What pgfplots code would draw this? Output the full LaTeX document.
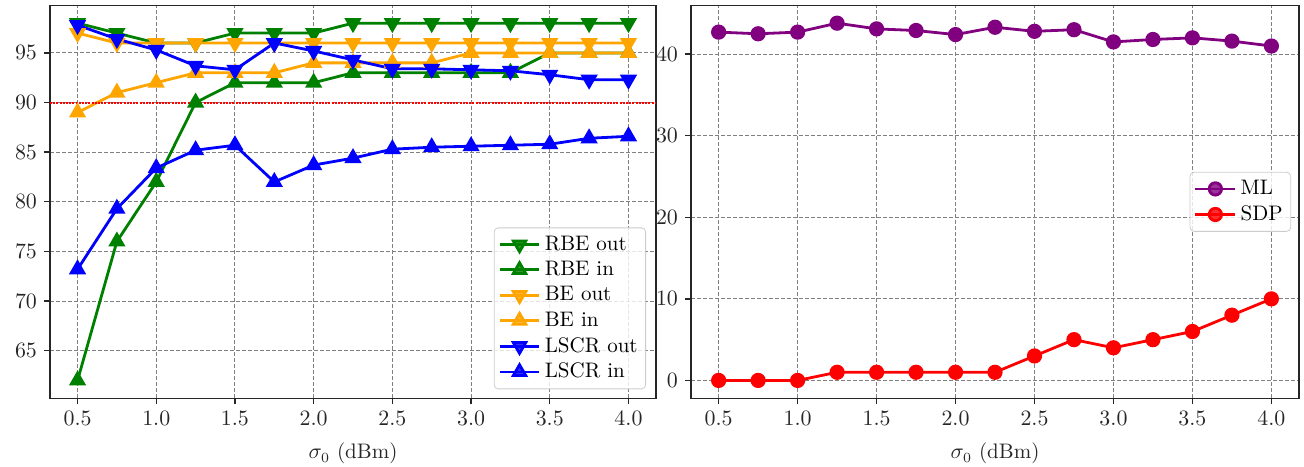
\documentclass[border=0pt]{standalone}
\usepackage{pgfplots}
\pgfplotsset{compat=1.18}
\definecolor{mgreen}{RGB}{0,128,0}
\definecolor{morange}{RGB}{255,165,0}
\definecolor{mblue}{RGB}{0,0,255}
\definecolor{mpurple}{RGB}{128,0,128}
\definecolor{mred}{RGB}{255,0,0}
\newcommand{\tfont}{\fontsize{10.5}{12.6}\selectfont}
\pgfplotsset{
  panel/.style={
    scale only axis,
    height=196.5pt,
    xmin=0.325, xmax=4.175,
    xtick={0.5,1.0,1.5,2.0,2.5,3.0,3.5,4.0},
    xticklabel style={/pgf/number format/.cd,fixed,fixed zerofill,precision=1},
    grid=major,
    major grid style={gray, line width=0.5pt, dash pattern=on 2pt off 1pt},
    axis line style={black!85, line width=0.7pt},
    tick style={black!85, line width=0.7pt},
    tick align=outside, tick pos=left,
    major tick length=3pt,
    ticklabel style={text=black!85, font=\tfont},
    xlabel={$\sigma_0$ (dBm)},
    xlabel style={text=black!85, font=\tfont, yshift=-2pt},
    legend cell align=left,
    legend style={draw=black!20, fill=white, fill opacity=0.8, text opacity=1,
      rounded corners=2pt, font=\tfont, row sep=0pt, inner sep=2pt},
    legend image code/.code={\draw[mark repeat=2,mark phase=2] plot coordinates {(0cm,0cm)(0.35cm,0cm)(0.7cm,0cm)};},
  },
  dn/.style={#1, line width=1.4pt, mark=triangle*, mark size=3.6pt, mark options={rotate=180, solid, fill=#1}},
  up/.style={#1, line width=1.4pt, mark=triangle*, mark size=3.6pt, mark options={solid, fill=#1}},
  ci/.style={#1, line width=1.4pt, mark=*, mark size=3.1pt, mark options={solid, fill=#1}},
}
\begin{document}
\begin{tikzpicture}
\useasboundingbox (-25pt,-33.85pt) rectangle (627pt,199.15pt);
\begin{axis}[panel, width=303pt, at={(0,0)}, anchor=south west,
  ymin=60.2, ymax=99.8, ytick={65,70,75,80,85,90,95},
  legend style={at={(0.9835,0.023)}, anchor=south east}]
\addplot[dn=mgreen] coordinates {(0.5,98)(0.75,97)(1.0,96)(1.25,96)(1.5,97)(1.75,97)(2.0,97)(2.25,98)(2.5,98)(2.75,98)(3.0,98)(3.25,98)(3.5,98)(3.75,98)(4.0,98)};
\addlegendentry{RBE out}
\addplot[up=mgreen] coordinates {(0.5,62)(0.75,76)(1.0,82)(1.25,90)(1.5,92)(1.75,92)(2.0,92)(2.25,93)(2.5,93)(2.75,93)(3.0,93)(3.25,93)(3.5,95)(3.75,95)(4.0,95)};
\addlegendentry{RBE in}
\addplot[dn=morange] coordinates {(0.5,97)(0.75,96)(1.0,96)(1.25,96)(1.5,96)(1.75,96)(2.0,96)(2.25,96)(2.5,96)(2.75,96)(3.0,96)(3.25,96)(3.5,96)(3.75,96)(4.0,96)};
\addlegendentry{BE out}
\addplot[up=morange] coordinates {(0.5,89)(0.75,91)(1.0,92)(1.25,93)(1.5,93)(1.75,93)(2.0,94)(2.25,94)(2.5,94)(2.75,94)(3.0,95)(3.25,95)(3.5,95)(3.75,95)(4.0,95)};
\addlegendentry{BE in}
\addplot[dn=mblue] coordinates {(0.5,97.8)(0.75,96.4)(1.0,95.3)(1.25,93.7)(1.5,93.3)(1.75,96.0)(2.0,95.2)(2.25,94.3)(2.5,93.4)(2.75,93.4)(3.0,93.3)(3.25,93.2)(3.5,92.8)(3.75,92.3)(4.0,92.3)};
\addlegendentry{LSCR out}
\addplot[up=mblue] coordinates {(0.5,73.2)(0.75,79.3)(1.0,83.4)(1.25,85.2)(1.5,85.7)(1.75,82.0)(2.0,83.7)(2.25,84.4)(2.5,85.3)(2.75,85.5)(3.0,85.6)(3.25,85.7)(3.5,85.8)(3.75,86.4)(4.0,86.6)};
\addlegendentry{LSCR in}
\addplot[mred, line width=1pt, dash pattern=on 1pt off 0.6pt, forget plot] coordinates {(0.325,90)(4.175,90)};
\end{axis}
\begin{axis}[panel, width=304pt, at={(320.5pt,0)}, anchor=south west,
  ymin=-2.19, ymax=45.99, ytick={0,10,20,30,40},
  legend style={at={(0.987,0.5)}, anchor=east}]
\addplot[ci=mpurple] coordinates {(0.5,42.7)(0.75,42.5)(1.0,42.7)(1.25,43.8)(1.5,43.1)(1.75,42.9)(2.0,42.4)(2.25,43.3)(2.5,42.8)(2.75,43.0)(3.0,41.5)(3.25,41.8)(3.5,42.0)(3.75,41.6)(4.0,41.0)};
\addlegendentry{ML}
\addplot[ci=mred] coordinates {(0.5,0)(0.75,0)(1.0,0)(1.25,1)(1.5,1)(1.75,1)(2.0,1)(2.25,1)(2.5,3)(2.75,5)(3.0,4)(3.25,5)(3.5,6)(3.75,8)(4.0,10)};
\addlegendentry{SDP}
\end{axis}
\end{tikzpicture}
\end{document}
